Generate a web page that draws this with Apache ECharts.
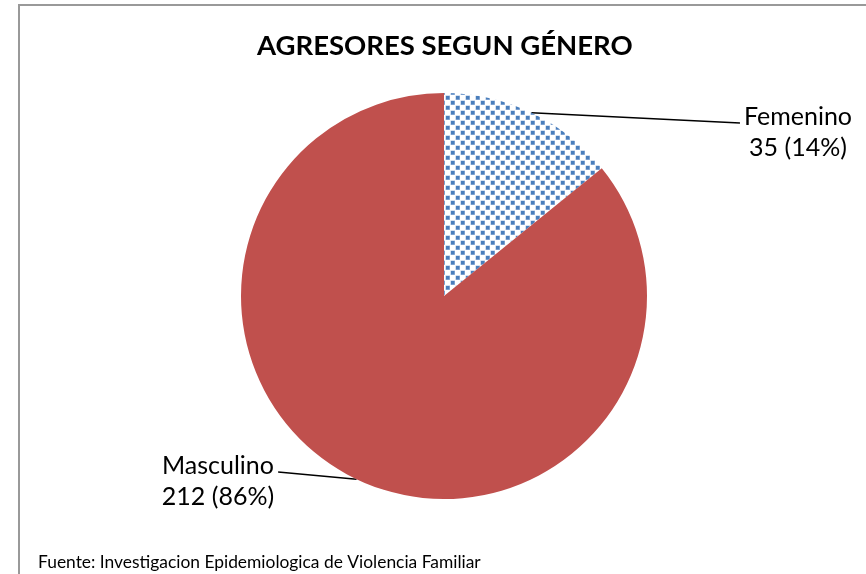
<!DOCTYPE html>
<html><head><meta charset="utf-8">
<script src="https://cdn.jsdelivr.net/npm/echarts@6/dist/echarts.min.js"></script>
<style>html,body{margin:0;padding:0;background:#fff}#c{width:866px;height:574px}</style>
</head><body><div id="c"></div>
<script>
const titleText = 'AGRESORES SEGUN GÉNERO';
const sourceText = 'Fuente: Investigacion Epidemiologica de Violencia Familiar';
const categories = ['Femenino', 'Masculino'];
const values = [35, 212];

function makePattern() {
  const c = document.createElement('canvas');
  c.width = 10; c.height = 10;
  const g = c.getContext('2d');
  g.fillStyle = '#ffffff'; g.fillRect(0, 0, 10, 10);
  const sq = (x, y) => {
    g.fillStyle = '#a9c1e2'; g.fillRect(x - 0.5, y - 0.5, 4.5, 4.5);
    g.fillStyle = '#4a7ebb'; g.fillRect(x, y, 3.5, 3.5);
  };
  sq(1, 1); sq(6, 6);
  return c;
}

const colors = [{ image: makePattern(), repeat: 'repeat' }, '#c0504d'];
const labelCenters = [[798, 132], [218, 481]];

const chart = echarts.init(document.getElementById('c'));
chart.setOption({
  animation: false,
  title: [
    { text: titleText, left: 252, top: 27,
      textStyle: { fontFamily: 'Lato', fontWeight: 'bold', fontSize: 27.5, color: '#000' } },
    { text: sourceText, left: 33, top: 549,
      textStyle: { fontFamily: 'Lato', fontWeight: 'normal', fontSize: 17.4, color: '#000' } }
  ],
  graphic: [{ type: 'rect', shape: { x: 19, y: 5, width: 900, height: 620 },
    style: { fill: 'none', stroke: '#999999', lineWidth: 2 }, silent: true }],
  series: [{
    type: 'pie',
    center: [444, 296],
    radius: 203,
    startAngle: 90,
    clockwise: true,
    percentPrecision: 0,
    data: categories.map((n, i) => ({ name: n, value: values[i], itemStyle: { color: colors[i] } })),
    label: {
      show: true, position: 'outside', formatter: '{b}\n{c} ({d}%)',
      fontFamily: 'Lato', fontSize: 25, color: '#000', lineHeight: 31, align: 'center'
    },
    labelLine: { show: true, length: 10, length2: 10, lineStyle: { color: '#000', width: 1.5 } },
    labelLayout: function (p) {
      const i = p.dataIndex;
      const [cx, cy] = labelCenters[i];
      const w = p.labelRect.width;
      const start = p.labelLinePoints ? p.labelLinePoints[0] : null;
      const endX = i === 0 ? cx - w / 2 - 4 : cx + w / 2 + 4;
      const res = { x: cx, y: cy, align: 'center', verticalAlign: 'middle' };
      if (start) res.labelLinePoints = [start.slice ? start.slice() : [start[0], start[1]], [endX, cy - 9]];
      return res;
    },
    emphasis: { disabled: true }
  }]
});
</script></body></html>
